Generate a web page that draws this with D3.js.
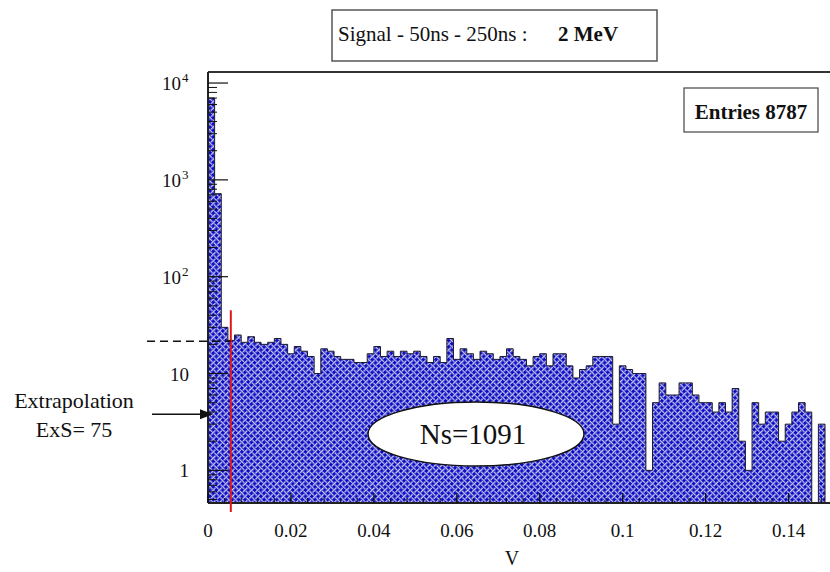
<!DOCTYPE html>
<html><head><meta charset="utf-8">
<script src="https://cdn.jsdelivr.net/npm/d3@7"></script>
<style>
body{margin:0;background:#fff}
svg{display:block}
text{font-family:"Liberation Serif","Times New Roman",serif;fill:#111}
</style>
</head><body><svg id="c" width="830" height="572"></svg>
<script>
// ---- data ----
const binWidth = 0.0016;            // V per bin
const counts = [7000,720,30,22,25,21,24,21,20,21,23,20,16,19,17,15,10,18,17,15,
  14,14,13,13,16,19,15,17,15,17,16,17,15,13,15,13,23,14,18,16,
  14,17,16,14,15,18,15,14,12,15,16,12,16,16,12,9,11,12,15,15,
  15,3,12,11,10,10,1,5,8,6,6,8,8,6,5,5,4,5,4,7,
  2,1,5,3,4,4,2,3,4,5,4,0,3];
const xTicks = [0,0.02,0.04,0.06,0.08,0.1,0.12,0.14];
const xTickLabels = ["0","0.02","0.04","0.06","0.08","0.1","0.12","0.14"];
const yMajor = [1,10,100,1000,10000];
const yLabels = [{b:"1",e:""},{b:"10",e:""},{b:"10",e:"2"},{b:"10",e:"3"},{b:"10",e:"4"}];
const cutV = 0.0055, cutTop = 45;   // red threshold line
const plateau = 21.5;               // dashed extrapolation level
const arrowLevel = 3.8;             // level of the "Extrapolation" arrow
const titleMain = "Signal - 50ns - 250ns :";
const titleBold = "2 MeV";
const entriesText = "Entries 8787";
const nsText = "Ns=1091";
const extrapText = ["Extrapolation","ExS= 75"];

// ---- scales ----
const svg = d3.select("#c");
const x = d3.scaleLinear().domain([0,0.15]).range([208,830]);
const y = d3.scaleLog().domain([0.46,13000]).range([503,72]);
const y0 = y.range()[0];

// woven pattern
const defs = svg.append("defs");
const pat = defs.append("pattern").attr("id","weave").attr("patternUnits","userSpaceOnUse")
  .attr("width",9).attr("height",9).attr("patternTransform","rotate(45)");
pat.append("rect").attr("width",9).attr("height",9).attr("fill","#0a0ac2");
pat.append("path")
  .attr("d","M0,2.25H5.6M7.9,2.25H9 M0,6.75H1.1M3.4,6.75H9 M6.75,0V5.6M6.75,7.9V9 M2.25,0V1.1M2.25,3.4V9")
  .attr("stroke","#ffffff").attr("stroke-width",1.1).attr("fill","none");

// histogram path
let d = `M${x(0)},${y0}`;
counts.forEach((c,i)=>{
  const yy = c>0 ? y(c) : y0;
  d += `V${yy}H${x((i+1)*binWidth)}`;
});
d += `V${y0}Z`;
svg.append("path").attr("d",d).attr("fill","url(#weave)")
  .attr("stroke","#1a1a2a").attr("stroke-width",1);

// frame / axes
svg.append("line").attr("x1",x.range()[0]).attr("x2",830).attr("y1",y.range()[1]).attr("y2",y.range()[1])
  .attr("stroke","#333").attr("stroke-width",2);
svg.append("line").attr("x1",x.range()[0]).attr("x2",x.range()[0]).attr("y1",y.range()[1]).attr("y2",y0)
  .attr("stroke","#222").attr("stroke-width",2);
svg.append("line").attr("x1",x.range()[0]).attr("x2",830).attr("y1",y0).attr("y2",y0)
  .attr("stroke","#222").attr("stroke-width",2);

// y ticks
const yMinor = [];
for (let e=-1;e<=4;e++) for (let m=2;m<=9;m++){const v=m*Math.pow(10,e); if(v>y.domain()[0]&&v<y.domain()[1]) yMinor.push(v);}
svg.selectAll(".ymin").data(yMinor).join("line")
  .attr("x1",x.range()[0]).attr("x2",x.range()[0]+9).attr("y1",v=>y(v)).attr("y2",v=>y(v))
  .attr("stroke","#111").attr("stroke-width",1);
svg.selectAll(".ymaj").data(yMajor).join("line")
  .attr("x1",x.range()[0]).attr("x2",x.range()[0]+20).attr("y1",v=>y(v)).attr("y2",v=>y(v))
  .attr("stroke","#111").attr("stroke-width",1.2);
const yl = svg.selectAll(".ylab").data(yMajor).join("text")
  .attr("x",d=>yLabels[yMajor.indexOf(d)].e? 181:189).attr("y",v=>y(v)+7)
  .attr("text-anchor","end").attr("font-size",19);
yl.append("tspan").text((v,i)=>yLabels[i].b);
svg.selectAll(".ysup").data(yMajor.filter((v,i)=>yLabels[i].e)).join("text")
  .attr("x",182).attr("y",v=>y(v)-1).attr("font-size",13)
  .text(v=>yLabels[yMajor.indexOf(v)].e);

// x ticks
const xMinor = d3.range(0,0.1501,0.004);
svg.selectAll(".xmin").data(xMinor).join("line")
  .attr("x1",v=>x(v)).attr("x2",v=>x(v)).attr("y1",y0).attr("y2",y0-5)
  .attr("stroke","#111").attr("stroke-width",1);
svg.selectAll(".xmaj").data(xTicks).join("line")
  .attr("x1",v=>x(v)).attr("x2",v=>x(v)).attr("y1",y0).attr("y2",y0-10)
  .attr("stroke","#111").attr("stroke-width",1.2);
svg.selectAll(".xlab").data(xTicks).join("text")
  .attr("x",v=>x(v)).attr("y",537).attr("text-anchor","middle").attr("font-size",19)
  .text((v,i)=>xTickLabels[i]);
svg.append("text").attr("x",512).attr("y",565).attr("text-anchor","middle").attr("font-size",20).text("V");

// red cut line
svg.append("line").attr("x1",x(cutV)).attr("x2",x(cutV)).attr("y1",y(cutTop)).attr("y2",y0+9)
  .attr("stroke","#e01818").attr("stroke-width",2);

// dashed plateau line
svg.append("line").attr("x1",147).attr("x2",x(cutV)).attr("y1",y(plateau)).attr("y2",y(plateau))
  .attr("stroke","#111").attr("stroke-width",1.5).attr("stroke-dasharray","8,5");

// arrow
const ay = y(arrowLevel);
svg.append("line").attr("x1",152).attr("x2",201).attr("y1",ay).attr("y2",ay).attr("stroke","#111").attr("stroke-width",1.5);
svg.append("path").attr("d",`M${200},${ay-5}L${213},${ay}L${200},${ay+5}Z`).attr("fill","#111");
svg.append("text").attr("x",74).attr("y",408).attr("text-anchor","middle").attr("font-size",22).text(extrapText[0]);
svg.append("text").attr("x",74).attr("y",437).attr("text-anchor","middle").attr("font-size",22).text(extrapText[1]);

// ellipse label
svg.append("ellipse").attr("cx",476).attr("cy",434).attr("rx",108).attr("ry",32)
  .attr("fill","#fff").attr("stroke","#111").attr("stroke-width",1.5);
svg.append("text").attr("x",473).attr("y",444).attr("text-anchor","middle").attr("font-size",29).text(nsText);

// title box
svg.append("rect").attr("x",332).attr("y",10).attr("width",325).attr("height",51)
  .attr("fill","#fff").attr("stroke","#555").attr("stroke-width",1.5);
const t = svg.append("text").attr("y",41).attr("font-size",21);
t.append("tspan").attr("x",338).text(titleMain);
t.append("tspan").attr("x",558).attr("font-weight","bold").text(titleBold);

// entries box
svg.append("rect").attr("x",684).attr("y",88).attr("width",134).attr("height",44)
  .attr("fill","#fff").attr("stroke","#444").attr("stroke-width",1.2);
svg.append("text").attr("x",751).attr("y",119).attr("text-anchor","middle").attr("font-size",21)
  .attr("font-weight","bold").text(entriesText);
</script></body></html>
